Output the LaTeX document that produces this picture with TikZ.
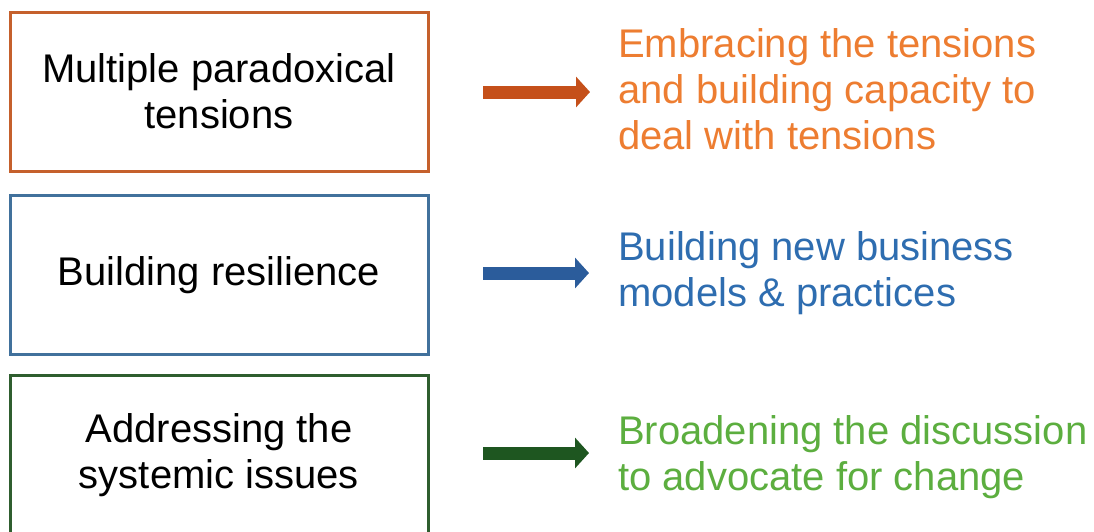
\documentclass[tikz,border=0pt]{standalone}
\usepackage{fontspec}
\setmainfont{Liberation Sans}
\usetikzlibrary{arrows.meta}
\definecolor{orBox}{HTML}{C5602C}
\definecolor{orArrow}{HTML}{C5501A}
\definecolor{orText}{HTML}{ED7D31}
\definecolor{blBox}{HTML}{41719C}
\definecolor{blArrow}{HTML}{2B5C9B}
\definecolor{blText}{HTML}{2E6DB0}
\definecolor{grBox}{HTML}{2F5E2F}
\definecolor{grArrow}{HTML}{1E5620}
\definecolor{grText}{HTML}{5CAE3F}
\begin{document}
\begin{tikzpicture}[x=1pt,y=-1pt,
  bigfont/.style={font=\fontsize{40}{46}\selectfont},
  themebox/.style={draw=#1, line width=3pt, minimum width=418pt,
    minimum height=159pt, inner sep=0pt, align=center, bigfont},
  outcome/.style={text=#1, anchor=north west, inner sep=0pt, align=left, bigfont},
  bigarrow/.style={draw=#1, line width=13pt,
    -{Triangle[length=14pt,width=30pt]}}]
  \useasboundingbox (0,0) rectangle (1094,531);
  \clip (0,0) rectangle (1094,531);

  % left column: themes
  \node[themebox=orBox] (t1) at (219,91.5) {Multiple paradoxical\\tensions};
  \node[themebox=blBox] (t2) at (219,275) {Building resilience};
  \node[themebox=grBox] (t3) at (219,455) {Addressing the\\systemic issues};

  % right column: responses
  \node[outcome=orText] (r1) at (618,28.5) {Embracing the tensions\\and building capacity to\\deal with tensions};
  \node[outcome=blText] (r2) at (618,231.5) {Building new business\\models \& practices};
  \node[outcome=grText] (r3) at (618,415) {Broadening the discussion\\to advocate for change};

  % arrows between the columns
  \coordinate (a1s) at (483,92);  \coordinate (a1e) at (590,92);
  \coordinate (a2s) at (483,273); \coordinate (a2e) at (589,273);
  \coordinate (a3s) at (483,453); \coordinate (a3e) at (589,453);
  \draw[bigarrow=orArrow] (a1s) -- (a1e);
  \draw[bigarrow=blArrow] (a2s) -- (a2e);
  \draw[bigarrow=grArrow] (a3s) -- (a3e);
\end{tikzpicture}
\end{document}
